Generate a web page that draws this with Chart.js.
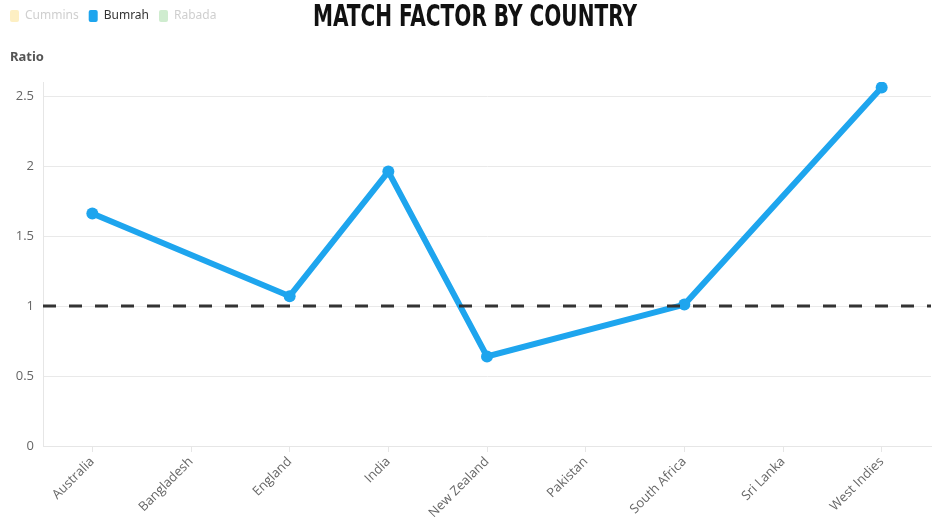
<!DOCTYPE html>
<html>
<head>
<meta charset="utf-8">
<script src="https://cdn.jsdelivr.net/npm/chart.js@4.4.1/dist/chart.umd.min.js"></script>
<style>
  html, body { margin: 0; padding: 0; background: #ffffff; }
  #wrap { width: 950px; height: 532px; position: relative; }
</style>
</head>
<body>
<div id="wrap"><canvas id="c" width="950" height="532"></canvas></div>
<script>
const chartTitle = "MATCH FACTOR BY COUNTRY";
const yAxisTitle = "Ratio";
const countries = ["Australia", "Bangladesh", "England", "India", "New Zealand", "Pakistan", "South Africa", "Sri Lanka", "West Indies"];
const bumrah = [1.66, null, 1.07, 1.96, 0.64, null, 1.01, null, 2.56];
const cummins = [null, null, null, null, null, null, null, null, null];
const rabada = [null, null, null, null, null, null, null, null, null];
const referenceValue = 1;
const yTicks = [0, 0.5, 1, 1.5, 2, 2.5];
const yMax = 2.6;

const BLUE = "#1ea5ee";

const spacerPlugin = {
  id: "spacer",
  beforeInit(chart) {
    const box = {
      position: "top",
      weight: 500,
      fullSize: true,
      options: {},
      left: 0, top: 0, right: 0, bottom: 0, width: 0, height: 0,
      isHorizontal() { return true; },
      update(maxWidth) { this.width = maxWidth; this.height = 50; return { width: this.width, height: this.height }; },
      draw() {}
    };
    Chart.layouts.addBox(chart, box);
  },
  afterDraw(chart) {
    const ctx = chart.ctx;
    ctx.save();
    ctx.fillStyle = "#111";
    ctx.textAlign = "center";
    ctx.textBaseline = "middle";
    ctx.font = "bold 30px 'Liberation Sans Narrow', 'DejaVu Sans Condensed', sans-serif";
    const w = ctx.measureText(chartTitle).width;
    const sx = 324 / w;
    ctx.translate(chart.width / 2, 18);
    ctx.scale(sx, 1);
    ctx.fillText(chartTitle, 0, 0);
    ctx.restore();
    ctx.save();
    ctx.textAlign = "left";
    ctx.textBaseline = "middle";
    ctx.fillStyle = "#555";
    ctx.font = "bold 13px 'Noto Sans', sans-serif";
    ctx.fillText(yAxisTitle, 10, 57);
    ctx.restore();
  }
};

const refLinePlugin = {
  id: "refLine",
  afterDatasetsDraw(chart) {
    const { ctx, chartArea, scales } = chart;
    const y = scales.y.getPixelForValue(referenceValue);
    ctx.save();
    ctx.strokeStyle = "#333333";
    ctx.lineWidth = 3;
    ctx.setLineDash([13, 13]);
    ctx.beginPath();
    ctx.moveTo(chartArea.left, y);
    ctx.lineTo(chartArea.right, y);
    ctx.stroke();
    ctx.restore();
  }
};

new Chart(document.getElementById("c"), {
  type: "line",
  data: {
    labels: countries,
    datasets: [
      { label: "Cummins", data: cummins, hidden: true, borderColor: "#fcd34d", backgroundColor: "#fcd34d" },
      { label: "Bumrah", data: bumrah, borderColor: BLUE, backgroundColor: BLUE, borderWidth: 6,
        pointRadius: 6, pointHoverRadius: 7, pointBackgroundColor: BLUE, pointBorderColor: BLUE, pointBorderWidth: 0,
        spanGaps: true, tension: 0 },
      { label: "Rabada", data: rabada, hidden: true, borderColor: "#86cf86", backgroundColor: "#86cf86" }
    ]
  },
  options: {
    responsive: false,
    animation: false,
    layout: { padding: { right: 19, left: 0, top: 0, bottom: 0 } },
    plugins: {
      legend: {
        position: "top",
        align: "start",
        labels: {
          boxWidth: 9,
          boxHeight: 12,
          padding: 10,
          useBorderRadius: true,
          borderRadius: 2,
          font: { family: "'Noto Sans', sans-serif", size: 12 },
          generateLabels(chart) {
            const faded = { "Cummins": "#fdefc3", "Bumrah": BLUE, "Rabada": "#cfeccf" };
            return chart.data.datasets.map((ds, i) => {
              const visible = chart.isDatasetVisible(i);
              return {
                text: ds.label,
                fillStyle: visible ? ds.backgroundColor : faded[ds.label],
                strokeStyle: "rgba(0,0,0,0)",
                lineWidth: 0,
                hidden: false,
                fontColor: visible ? "#333" : "#cfcfcf",
                datasetIndex: i,
                borderRadius: 2
              };
            });
          }
        }
      },
      title: { display: false },
      tooltip: { enabled: true }
    },
    scales: {
      x: {
        offset: true,
        grid: { drawOnChartArea: false, drawTicks: true, tickLength: 6, color: "#e6e6e6" },
        border: { color: "#e6e6e6" },
        ticks: {
          color: "#666",
          font: { family: "'Open Sans', sans-serif", size: 13 },
          maxRotation: 45, minRotation: 45, autoSkip: false, padding: 2
        },
        afterFit(scale) { scale.height = 86; }
      },
      y: {
        min: 0,
        max: yMax,
        afterBuildTicks(scale) {
          scale.ticks = yTicks.map(v => ({ value: v }));
        },
        ticks: {
          color: "#666",
          padding: 9,
          font: { family: "'Open Sans', sans-serif", size: 13 },
          callback(value) { return String(value); }
        },
        grid: { color: "#e9e9e9", drawTicks: false },
        border: { color: "#e6e6e6" },
        afterFit(scale) { scale.width = 43; }
      }
    }
  },
  plugins: [spacerPlugin, refLinePlugin]
});
</script>
</body>
</html>
